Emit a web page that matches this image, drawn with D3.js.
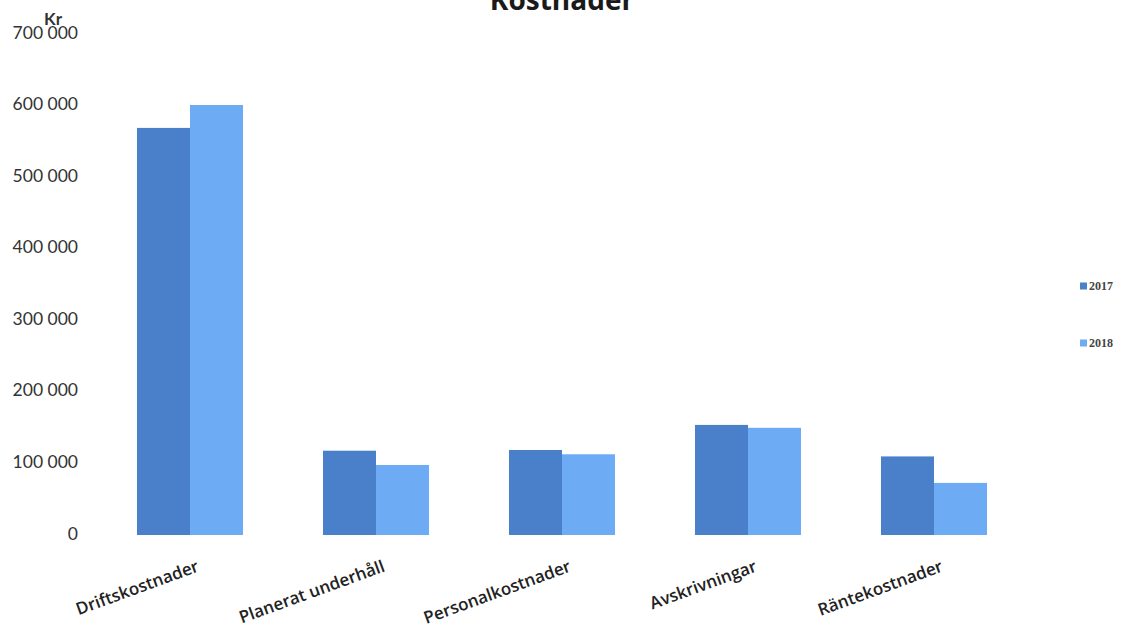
<!DOCTYPE html>
<html>
<head>
<meta charset="utf-8">
<script src="https://cdn.jsdelivr.net/npm/d3@7"></script>
<style>
html,body{margin:0;padding:0;background:#fff;}
svg{display:block;}
</style>
</head>
<body>
<svg id="chart" width="1126" height="626"></svg>
<script>
const categories = ["Driftskostnader", "Planerat underhåll", "Personalkostnader", "Avskrivningar", "Räntekostnader"];
const seriesNames = ["2017", "2018"];
const values2017 = [566000, 115000, 116000, 151000, 107000];
const values2018 = [598000, 95000, 110000, 147000, 70000];
const yTicks = [0, 100000, 200000, 300000, 400000, 500000, 600000, 700000];
const colors = ["#4a7fc9", "#6eabf5"];
const title = "Kostnader";
const yUnit = "Kr";

const svg = d3.select("#chart");
const x0 = d3.scaleBand().domain(categories).range([97, 1027]).paddingInner(0.43).paddingOuter(0.215);
const x1 = d3.scaleBand().domain(seriesNames).range([0, x0.bandwidth()]);
const y = d3.scaleLinear().domain([0, 700000]).range([533, 32]);

const fmt = v => d3.format(",")(v).replace(/,/g, " ");

// y axis labels
const yAxis = d3.axisLeft(y).tickValues(yTicks).tickFormat(fmt).tickSize(0).tickPadding(0);
const yg = svg.append("g").attr("transform", "translate(78,0)").call(yAxis);
yg.select(".domain").remove();
yg.selectAll("text").attr("font-family", "Lato, 'Open Sans', sans-serif").attr("font-size", 17.5).attr("fill", "#333").attr("dy", "0.35em");

// bars
const data = categories.map((c, i) => ({cat: c, vals: [values2017[i], values2018[i]]}));
const groups = svg.append("g").selectAll("g").data(data).join("g")
  .attr("transform", d => `translate(${x0(d.cat)},0)`);
groups.selectAll("rect").data(d => d.vals.map((v, j) => ({s: seriesNames[j], v, j})))
  .join("rect")
  .attr("x", d => x1(d.s))
  .attr("y", d => y(d.v))
  .attr("width", x1.bandwidth())
  .attr("height", d => y(0) - y(d.v) + 2)
  .attr("fill", d => colors[d.j]);

// x labels
const xAxis = d3.axisBottom(x0).tickSize(0);
const xg = svg.append("g").call(xAxis);
xg.select(".domain").remove();
xg.selectAll(".tick text")
  .attr("font-family", "'Open Sans', Lato, sans-serif")
  .attr("font-size", 17)
  .attr("font-weight", 600)
  .attr("fill", "#222")
  .attr("text-anchor", "end")
  .attr("dy", 0)
  .attr("y", 0)
  .attr("transform", "translate(10,571) rotate(-20)");

// title
svg.append("text").attr("x", 562).attr("y", 10).attr("text-anchor", "middle")
  .attr("font-family", "'Open Sans', Lato, sans-serif").attr("font-weight", 700)
  .attr("font-size", 28).attr("fill", "#1a1a1a").text(title);

// unit label
svg.append("text").attr("x", 44).attr("y", 25)
  .attr("font-family", "Lato, 'Open Sans', sans-serif").attr("font-weight", 700)
  .attr("font-size", 17).attr("fill", "#333").text(yUnit);

// legend
const legend = svg.append("g").selectAll("g").data(seriesNames).join("g")
  .attr("transform", (d, i) => `translate(1080,${286 + i * 57})`);
legend.append("rect").attr("x", 0).attr("y", -3.5).attr("width", 7).attr("height", 7)
  .attr("fill", (d, i) => colors[i]);
legend.append("text").attr("x", 9).attr("y", 0).attr("dy", "0.35em")
  .attr("font-family", "'Liberation Serif', 'DejaVu Serif', serif").attr("font-weight", 700)
  .attr("font-size", 12).attr("fill", "#444").text(d => d);
</script>
</body>
</html>
